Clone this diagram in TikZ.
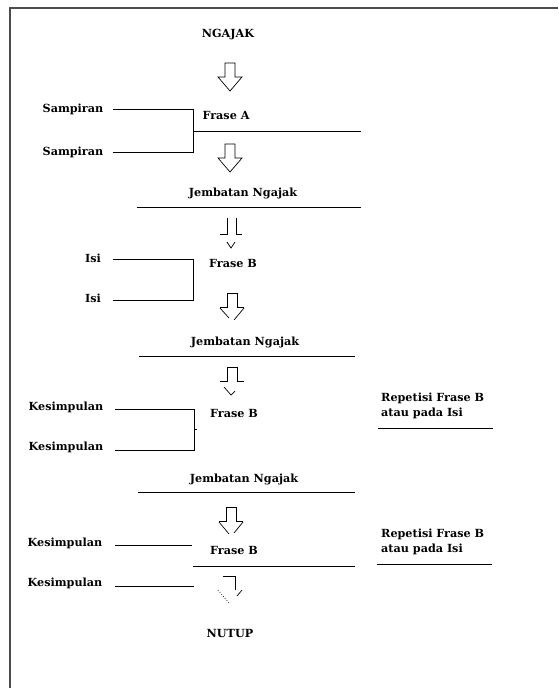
\documentclass[tikz,border=0pt]{standalone}
\usepackage{fontspec}
\newfontfamily\diafont{DejaVu Serif}
\begin{document}
\begin{tikzpicture}[x=1pt,y=-1pt,
  lbl/.style={font=\diafont\bfseries\fontsize{11.2}{15}\selectfont, inner sep=0pt, text=black},
  rule/.style={draw=black, line width=0.8pt},
  frame/.style={draw=black!70, line width=1.5pt},
  arr/.style={draw=black, line width=0.7pt, fill=white},
  blockarrow/.pic={\draw[arr] (-5,0) -- (5,0) -- (5,14) -- (12,14) -- (0,28) -- (-12,14) -- (-5,14) -- cycle;}
]
\useasboundingbox (0,0) rectangle (558,688);
% frame (top and left)
\coordinate (ftr) at (558,8);
\coordinate (ftl) at (10,8);
\coordinate (fbl) at (10,688);
\draw[frame] (ftr) -- (ftl) -- (fbl);

% texts
\node[lbl] (ngajak) at (228,35) {NGAJAK};
\node[lbl] (samp1) at (73,109) {Sampiran};
\node[lbl] (samp2) at (73,152) {Sampiran};
\node[lbl] (fraseA) at (226,115) {Frase A};
\node[lbl] (jemb1) at (243,193) {Jembatan Ngajak};
\node[lbl] (isi1) at (93,258) {Isi};
\node[lbl] (isi2) at (93,298) {Isi};
\node[lbl] (fraseB1) at (233,263) {Frase B};
\node[lbl] (jemb2) at (245,342) {Jembatan Ngajak};
\node[lbl] (kes1) at (66,407) {Kesimpulan};
\node[lbl] (kes2) at (66,447) {Kesimpulan};
\node[lbl] (fraseB2) at (234,413) {Frase B};
\node[lbl, align=left, anchor=west] (rep1) at (381,405.5) {Repetisi Frase B\\atau pada Isi};
\node[lbl] (jemb3) at (244,479) {Jembatan Ngajak};
\node[lbl] (kes3) at (65,543) {Kesimpulan};
\node[lbl] (fraseB3) at (234,550) {Frase B};
\node[lbl, align=left, anchor=west] (rep2) at (381,542) {Repetisi Frase B\\atau pada Isi};
\node[lbl] (kes4) at (65,583) {Kesimpulan};
\node[lbl] (nutup) at (230,633) {NUTUP};

% bracket 1 (Sampiran)
\coordinate (a1) at (113,109); \coordinate (a2) at (193,109);
\coordinate (a3) at (193,152); \coordinate (a4) at (113,152);
\coordinate (a5) at (193,131); \coordinate (a6) at (361,131);
\draw[rule] (a1) -- (a2) -- (a3) -- (a4);
\draw[rule] (a5) -- (a6);
% rule under Jembatan 1
\coordinate (j1l) at (137,207); \coordinate (j1r) at (361,207);
\draw[rule] (j1l) -- (j1r);
% bracket 2 (Isi)
\coordinate (b1) at (113,259); \coordinate (b2) at (193,259);
\coordinate (b3) at (193,300); \coordinate (b4) at (113,300);
\draw[rule] (b1) -- (b2) -- (b3) -- (b4);
% rule under Jembatan 2
\coordinate (j2l) at (139,356); \coordinate (j2r) at (355,356);
\draw[rule] (j2l) -- (j2r);
% bracket 3 (Kesimpulan)
\coordinate (c1) at (115,409); \coordinate (c2) at (194,409);
\coordinate (c3) at (194,450); \coordinate (c4) at (115,450);
\coordinate (c5) at (194,429); \coordinate (c6) at (196.5,429);
\draw[rule] (c1) -- (c2) -- (c3) -- (c4);
\draw[rule] (c5) -- (c6);
% rule under repetisi 1
\coordinate (r1l) at (378,428); \coordinate (r1r) at (493,428);
\draw[rule] (r1l) -- (r1r);
% rule under Jembatan 3
\coordinate (j3l) at (138,492); \coordinate (j3r) at (355,492);
\draw[rule] (j3l) -- (j3r);
% last section
\coordinate (d1) at (115,545); \coordinate (d2) at (192,545);
\draw[rule] (d1) -- (d2);
\coordinate (d3) at (193,566); \coordinate (d4) at (355,566);
\draw[rule] (d3) -- (d4);
\coordinate (r2l) at (377,564); \coordinate (r2r) at (492,564);
\draw[rule] (r2l) -- (r2r);
\coordinate (d5) at (115,586); \coordinate (d6) at (194,586);
\draw[rule] (d5) -- (d6);

% full block arrows
\pic at (230,63) {blockarrow};
\pic at (230,144) {blockarrow};

% arrow 3 (broken)
\begin{scope}[shift={(231,218)}]
\draw[arr] (-4,0) -- (-4,16) -- (-11,16);
\draw[arr] (5,0) -- (5,16) -- (11,16);
\draw[arr] (-4,24) -- (0,30) -- (4,24);
\end{scope}
% arrow 4
\begin{scope}[shift={(232,293)}]
\draw[arr] (-12,14) -- (-5,14) -- (-5,0) -- (5,0) -- (5,14) -- (12,14);
\draw[arr] (-12,15) -- (-3,25);
\draw[arr] (12,15) -- (2,27);
\end{scope}
% arrow 5
\begin{scope}[shift={(232,367)}]
\draw[arr] (-12,14) -- (-5,14) -- (-5,0) -- (5,0) -- (5,14) -- (12,14);
\draw[arr] (-8,20) -- (-1,28) -- (3,24);
\end{scope}
% arrow 6
\begin{scope}[shift={(231,507)}]
\draw[arr] (-12,14) -- (-5,14) -- (-5,0) -- (5,0) -- (5,14) -- (12,14);
\draw[arr] (-12,15) -- (-2,27);
\draw[arr] (12,15) -- (3,26);
\end{scope}
% arrow 7 (faded)
\begin{scope}[shift={(230,576)}]
\draw[arr] (-7,0) -- (5,0) -- (5,14);
\draw[arr, dotted] (-12,14) -- (-1,27);
\draw[arr] (12,14) -- (7,20);
\end{scope}
\end{tikzpicture}
\end{document}
